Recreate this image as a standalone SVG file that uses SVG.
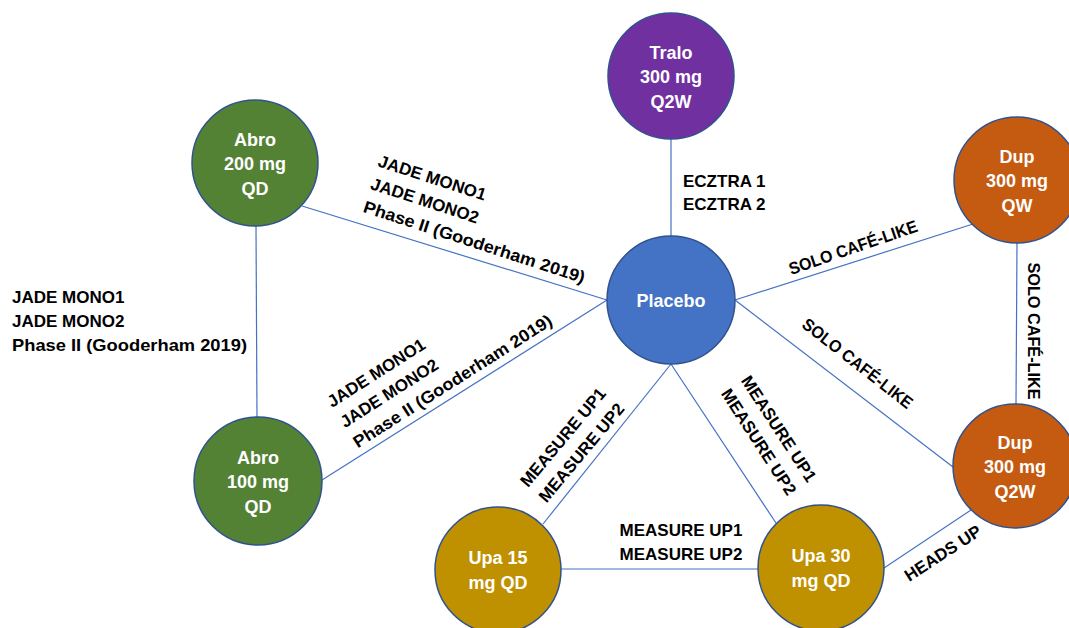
<svg xmlns="http://www.w3.org/2000/svg" width="1069" height="628" viewBox="0 0 1069 628">
<style>
.node{stroke:#2F528F;stroke-width:1.5}
.nt{font-family:"Liberation Sans",Arial,sans-serif;font-weight:bold;font-size:18px;fill:#fff;text-anchor:middle}
.lb{font-family:"Liberation Sans",Arial,sans-serif;font-weight:bold;font-size:17px;fill:#000}
.mid{text-anchor:middle}
#connectors line{stroke:#4472C4;stroke-width:1.2}
</style>
<rect width="1069" height="628" fill="#fff"/>
<g id="connectors">
<line x1="671" y1="139" x2="671" y2="236"/>
<line x1="302" y1="206" x2="607" y2="300"/>
<line x1="256" y1="226" x2="257" y2="417"/>
<line x1="322" y1="480" x2="607" y2="300"/>
<line x1="671" y1="364" x2="543" y2="524"/>
<line x1="671" y1="364" x2="776" y2="523"/>
<line x1="561" y1="569" x2="758" y2="569"/>
<line x1="735" y1="300" x2="973" y2="224"/>
<line x1="735" y1="300" x2="953" y2="467"/>
<line x1="1017" y1="243" x2="1016" y2="404"/>
<line x1="884" y1="568" x2="971" y2="510"/>
</g>
<g id="labels">
<text class="lb" x="683" y="187">ECZTRA 1</text>
<text class="lb" x="683" y="210">ECZTRA 2</text>
<g transform="translate(377,166) rotate(18)">
<text class="lb" x="0" y="0">JADE MONO1</text>
<text class="lb" x="0" y="24">JADE MONO2</text>
<text class="lb" x="0" y="48" textLength="232" lengthAdjust="spacingAndGlyphs">Phase II (Gooderham 2019)</text>
</g>
<text class="lb" x="12" y="303">JADE MONO1</text>
<text class="lb" x="12" y="327">JADE MONO2</text>
<text class="lb" x="12" y="351" textLength="235" lengthAdjust="spacingAndGlyphs">Phase II (Gooderham 2019)</text>
<g transform="translate(332,408) rotate(-32.5)">
<text class="lb" x="0" y="0">JADE MONO1</text>
<text class="lb" x="0" y="24">JADE MONO2</text>
<text class="lb" x="0" y="48" textLength="232" lengthAdjust="spacingAndGlyphs">Phase II (Gooderham 2019)</text>
</g>
<g transform="translate(528,488) rotate(-50)">
<text class="lb" x="0" y="0">MEASURE UP1</text>
<text class="lb" x="0" y="24">MEASURE UP2</text>
</g>
<g transform="translate(774,432) rotate(57)">
<text class="lb mid" x="0" y="0">MEASURE UP1</text>
<text class="lb mid" x="0" y="24">MEASURE UP2</text>
</g>
<text class="lb mid" x="681" y="536">MEASURE UP1</text>
<text class="lb mid" x="681" y="560">MEASURE UP2</text>
<text class="lb mid" transform="translate(855,253) rotate(-19)" textLength="135" lengthAdjust="spacingAndGlyphs">SOLO CAFÉ-LIKE</text>
<text class="lb mid" transform="translate(854,368) rotate(38)" textLength="135" lengthAdjust="spacingAndGlyphs">SOLO CAFÉ-LIKE</text>
<text class="lb mid" transform="translate(1028,331) rotate(90)" textLength="137" lengthAdjust="spacingAndGlyphs">SOLO CAFÉ-LIKE</text>
<text class="lb mid" transform="translate(946,558) rotate(-33)">HEADS UP</text>
</g>
<g id="tralo">
<circle class="node" cx="671" cy="76" r="63" fill="#7030A0"/>
<text class="nt" x="671" y="58.5">Tralo</text>
<text class="nt" x="671" y="83">300 mg</text>
<text class="nt" x="671" y="107.5">Q2W</text>
</g>
<g id="abro200">
<circle class="node" cx="255" cy="163" r="63" fill="#548235"/>
<text class="nt" x="255" y="145.5">Abro</text>
<text class="nt" x="255" y="170">200 mg</text>
<text class="nt" x="255" y="194.5">QD</text>
</g>
<g id="dupqw">
<circle class="node" cx="1017" cy="180" r="63" fill="#C55A11"/>
<text class="nt" x="1017" y="162.5">Dup</text>
<text class="nt" x="1017" y="187">300 mg</text>
<text class="nt" x="1017" y="211.5">QW</text>
</g>
<g id="placebo">
<circle class="node" cx="671" cy="300" r="64" fill="#4472C4"/>
<text class="nt" x="671" y="306.5">Placebo</text>
</g>
<g id="abro100">
<circle class="node" cx="258" cy="481" r="64" fill="#548235"/>
<text class="nt" x="258" y="463.5">Abro</text>
<text class="nt" x="258" y="488">100 mg</text>
<text class="nt" x="258" y="512.5">QD</text>
</g>
<g id="dupq2w">
<circle class="node" cx="1015" cy="466" r="62" fill="#C55A11"/>
<text class="nt" x="1015" y="448.5">Dup</text>
<text class="nt" x="1015" y="473">300 mg</text>
<text class="nt" x="1015" y="497.5">Q2W</text>
</g>
<g id="upa15">
<circle class="node" cx="498" cy="570" r="63" fill="#BF9000"/>
<text class="nt" x="498" y="564">Upa 15</text>
<text class="nt" x="498" y="588.5">mg QD</text>
</g>
<g id="upa30">
<circle class="node" cx="821" cy="568" r="63" fill="#BF9000"/>
<text class="nt" x="821" y="562">Upa 30</text>
<text class="nt" x="821" y="586.5">mg QD</text>
</g>
</svg>
